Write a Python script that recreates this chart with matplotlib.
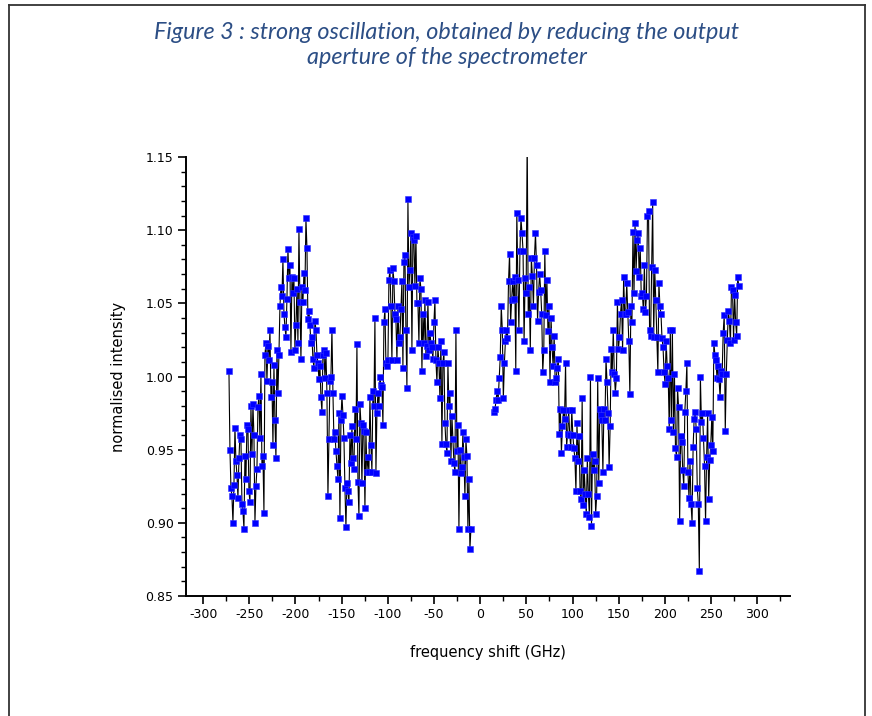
import numpy as np
import matplotlib
matplotlib.use("Agg")
import matplotlib.pyplot as plt
from matplotlib.lines import Line2D
from matplotlib.ticker import MultipleLocator

# ---------------- data ----------------
left_start, left_stop = -272.0, -10.0
right_start, right_stop = 15.0, 280.0

left_y = [
    1.004, 0.950, 0.924, 0.918, 0.900, 0.926, 0.965, 0.942, 0.933, 0.917,
    0.944, 0.960, 0.957, 0.913, 0.908, 0.896, 0.946, 0.930, 0.967, 0.964,
    0.922, 0.914, 0.980, 0.947, 0.981, 0.960, 0.900, 0.925, 0.937, 0.979,
    0.987, 0.958, 1.002, 0.939, 0.946, 0.907, 1.015, 1.023, 0.997, 1.021,
    1.011, 1.032, 0.986, 0.996, 0.953, 1.008, 0.970, 0.944, 1.018, 0.989,
    1.015, 1.048, 1.061, 1.055, 1.080, 1.043, 1.034, 1.027, 1.053, 1.087,
    1.067, 1.076, 1.017, 1.068, 1.057, 1.067, 1.018, 1.035, 1.060, 1.023,
    1.101, 1.051, 1.012, 1.061, 1.051, 1.071, 1.059, 1.108, 1.088, 1.039,
    1.045,
    1.035, 1.023, 1.027, 1.012, 1.006, 1.038, 1.032,
    1.015, 1.009, 0.998, 1.007, 0.986, 0.976, 1.015,
    1.018, 0.999, 1.016, 0.989, 0.918, 0.957,
    0.997, 1.000, 1.032, 0.989, 0.957,
    0.962, 0.949, 0.939, 0.930, 0.975, 0.903,
    0.970, 0.987, 0.974, 0.958, 0.924, 0.897, 0.927,
    0.922, 0.914, 0.960, 0.941, 0.966,
    0.944, 0.937, 0.978, 0.957, 1.022, 0.928, 0.905,
    0.981, 0.968, 0.927, 0.967, 0.963, 0.910,
    0.962, 0.935, 0.945, 0.935, 0.986, 0.953, 0.935,
    0.990, 0.980, 1.040, 0.934, 0.975,
    0.989, 0.980, 1.000, 0.994, 0.993, 0.967, 1.037, 1.046,
    1.009, 1.007, 1.011, 1.066, 1.073, 1.048, 1.011,
    1.074, 1.065, 1.043, 1.039, 1.011, 1.048, 1.023,
    1.027, 1.046, 1.065, 1.006, 1.078, 1.083, 1.032, 0.992,
    1.121, 1.061, 1.073, 1.098, 1.018, 1.095,
    1.093, 1.062, 1.096, 1.050, 1.050, 1.023,
    1.067, 1.060, 1.004, 1.043, 1.023, 1.052,
    1.014, 1.021, 1.051, 1.018, 1.030, 1.023, 1.020,
    1.012, 1.037, 1.052, 1.011, 0.996, 1.020,
    1.009, 0.985, 1.024, 0.954, 1.009,
    1.017, 0.968, 0.954, 0.948, 1.009, 0.980,
    0.989, 0.942, 0.973, 0.957, 0.941, 0.935, 1.032,
    0.949, 0.967, 0.896, 0.950, 0.934, 0.938,
    0.962, 0.945, 0.918, 0.957, 0.946, 0.896, 0.930,
    0.882, 0.896,
]

right_y = [
    0.976, 0.978, 0.984, 0.990,
    0.984, 0.999, 1.013, 1.048, 1.032, 0.985, 1.009,
    1.024, 1.032, 1.026, 1.065, 1.084, 1.037, 1.052,
    1.065, 1.053, 1.068, 1.004, 1.112, 1.066,
    1.032, 1.086, 1.108, 1.098, 1.086, 1.024, 1.067,
    1.057, 1.165, 1.043, 1.061, 1.018, 1.081, 1.069,
    1.048, 1.081, 1.098, 1.076, 1.038, 1.058,
    1.070, 1.059, 1.043, 1.003, 1.018, 1.086,
    1.042, 1.066, 1.031, 1.048, 0.996, 1.040,
    1.020, 1.007, 1.028, 0.996, 0.999, 1.006, 1.012,
    0.961, 0.978, 0.948, 0.966, 0.977, 0.971,
    1.009, 0.952, 0.961, 0.977, 0.960, 0.952,
    0.977, 0.960, 0.951, 0.944, 0.922, 0.968,
    0.942, 0.959, 0.922, 0.916, 0.985, 0.912,
    0.936, 0.920, 0.906, 0.944, 0.920, 0.904, 1.000,
    0.898, 0.947, 0.936, 0.942, 0.906, 0.918,
    0.999, 0.927, 0.978, 0.974, 0.970, 0.935,
    0.978, 0.970, 1.012, 0.996, 0.975, 0.938,
    0.966, 1.019, 1.003, 1.032, 1.002, 0.989,
    0.999, 1.051, 1.019, 1.027, 1.043, 1.052,
    1.018, 1.068, 1.043, 1.043, 1.064, 1.044,
    1.024, 0.988, 1.048, 1.037, 1.099, 1.057,
    1.105, 1.072, 1.093, 1.098, 1.068, 1.088,
    1.055, 1.057, 1.046, 1.076, 1.044, 1.055,
    1.110, 1.113, 1.032, 1.028, 1.075,
    1.119, 1.027, 1.073, 1.052, 1.027, 1.003,
    1.064, 1.048, 1.043, 1.026, 1.020, 1.003, 0.995,
    1.024, 1.007, 0.999, 0.964, 1.032, 0.970,
    1.032, 0.962, 1.002, 0.951, 0.945,
    0.992, 0.979, 0.901, 0.959, 0.955,
    0.936, 0.925, 0.976, 0.990, 1.009, 0.935, 0.917,
    0.942, 0.913, 0.900, 0.952, 0.971, 0.976, 0.964,
    0.924, 0.913, 0.867, 1.000, 0.969, 0.975,
    0.958, 0.939, 0.901, 0.945, 0.975, 0.916, 0.943,
    0.953, 0.972, 0.949, 1.023, 1.015, 1.011,
    0.999, 1.007, 0.998, 0.986, 1.004, 1.002,
    1.030, 1.042, 0.963, 1.002, 1.025,
    1.045, 1.038, 1.023, 1.061, 1.059, 1.025,
    1.056, 1.037, 1.028, 1.068, 1.062,
]

x_ticks = [-300, -250, -200, -150, -100, -50, 0, 50, 100, 150, 200, 250, 300]
y_ticks = [0.85, 0.90, 0.95, 1.00, 1.05, 1.10, 1.15]

title_text = "Figure 3 : strong oscillation, obtained by reducing the output\naperture of the spectrometer"
x_label = "frequency shift (GHz)"
y_label = "normalised intensity"

# ---------------- figure ----------------
W, H = 872, 716
fig = plt.figure(figsize=(W / 100, H / 100), dpi=100)
fig.patch.set_facecolor("white")

# page frame
fl, fr, ft = 9 / W, 865 / W, 1 - 5 / H
for xs, ys in [([fl, fl], [-0.01, ft]), ([fl, fr], [ft, ft]), ([fr, fr], [ft, -0.01])]:
    fig.add_artist(Line2D(xs, ys, transform=fig.transFigure, color="#333333", lw=1.3))

fig.text(447 / W, 1 - 45 / H, title_text, ha="center", va="center",
         fontsize=16.8, style="italic", family="Lato", color="#2C4E85",
         linespacing=1.26)

ax = fig.add_axes([186 / W, 1 - 596 / H, (790 - 186) / W, (596 - 157) / H])

xl = np.linspace(left_start, left_stop, len(left_y))
xr = np.linspace(right_start, right_stop, len(right_y))
for xs, ys in [(xl, left_y), (xr, right_y)]:
    ax.plot(xs, ys, color="black", lw=0.8, zorder=2)
    ax.plot(xs, ys, ls="none", marker="s", ms=4.3, mfc="#0000FF",
            mec="#3030FF", mew=0.4, zorder=3)

ax.set_xlim(-318.5, 335.5)
ax.set_ylim(0.85, 1.15)
ax.set_xticks(x_ticks)
ax.set_xticklabels([str(t) for t in x_ticks])
ax.xaxis.set_minor_locator(MultipleLocator(25))
ax.set_yticks(y_ticks)
ax.set_yticklabels([f"{t:.2f}" for t in y_ticks])
ax.yaxis.set_minor_locator(MultipleLocator(0.01))

for s in ["top", "right"]:
    ax.spines[s].set_visible(False)
for s in ["left", "bottom"]:
    ax.spines[s].set_linewidth(1.4)

ax.tick_params(which="major", direction="out", length=6, width=1.2,
               labelsize=9, pad=3)
ax.tick_params(which="minor", direction="out", length=3.5, width=1.0)

ax.set_xlabel(x_label, fontsize=10.5, labelpad=17)
ax.set_ylabel(y_label, fontsize=10.5, labelpad=14)

fig.savefig("out.png", dpi=100)
